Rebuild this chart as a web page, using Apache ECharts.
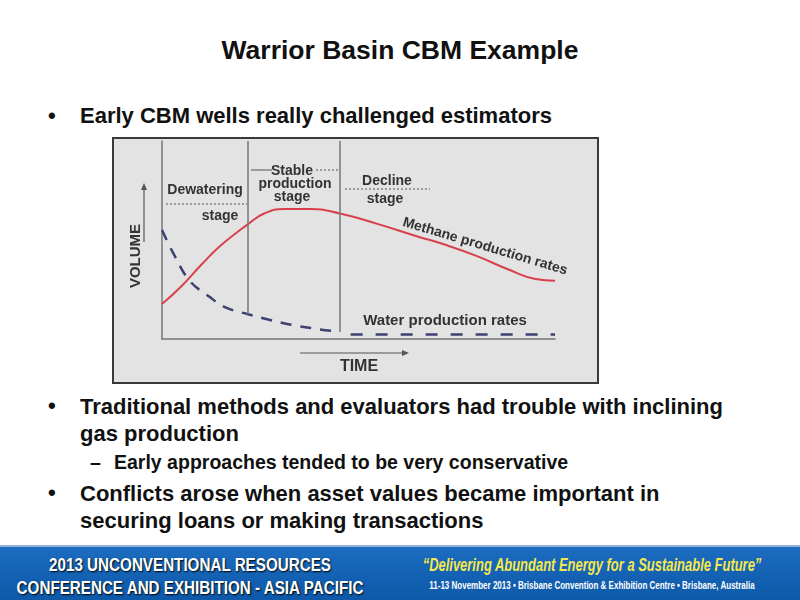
<!DOCTYPE html><html><head><meta charset="utf-8">
<script src="https://cdn.jsdelivr.net/npm/echarts@6/dist/echarts.min.js"></script>
<style>
body{margin:0;width:800px;height:600px;overflow:hidden;background:#fff;font-family:"Liberation Sans",Arial,sans-serif;position:relative}
.t{position:absolute;font-weight:bold;color:#111;white-space:nowrap}
#box{position:absolute;left:112px;top:137px;width:483px;height:243px;border:2px solid #3a3a3a;background:#e3e3e3}
#c{width:483px;height:243px}
#foot{position:absolute;left:0;top:545px;width:800px;height:55px;background:linear-gradient(#1c6cc0,#0d58a8);border-top:2px solid #8fb0d8}
.f{position:absolute;font-weight:bold;white-space:nowrap;text-align:center;transform-origin:0 0}
</style></head><body>
<div class="t" style="left:0;width:800px;text-align:center;top:35px;font-size:26.5px">Warrior Basin CBM Example</div>
<div class="t" style="left:48px;top:103px;font-size:22px">•</div>
<div class="t" style="left:80px;top:103px;font-size:22px">Early CBM wells really challenged estimators</div>
<div id="box"><div id="c"></div></div>
<div class="t" style="left:48px;top:393px;font-size:22px">•</div>
<div class="t" style="left:80px;top:393px;font-size:22px;line-height:27px">Traditional methods and evaluators had trouble with inclining<br>gas production</div>
<div class="t" style="left:90px;top:451px;font-size:19.5px">–</div>
<div class="t" style="left:114px;top:451px;font-size:19.5px">Early approaches tended to be very conservative</div>
<div class="t" style="left:48px;top:480px;font-size:22px">•</div>
<div class="t" style="left:80px;top:480px;font-size:22px;line-height:27px">Conflicts arose when asset values became important in<br>securing loans or making transactions</div>
<div id="foot">
<div class="f" style="left:190px;top:6px;font-size:19px;color:#fff;line-height:23px;text-shadow:1px 1px 2px #000;transform:scaleX(0.8) translateX(-50%)">2013 UNCONVENTIONAL RESOURCES<br>CONFERENCE AND EXHIBITION - ASIA PACIFIC</div>
<div class="f" style="left:592px;top:8px;font-size:18px;color:#f5e84a;font-style:italic;transform:scaleX(0.72) translateX(-50%)">“Delivering Abundant Energy for a Sustainable Future”</div>
<div class="f" style="left:592px;top:33px;font-size:10px;color:#fff;transform:scaleX(0.8) translateX(-50%)">11-13 November 2013 • Brisbane Convention &amp; Exhibition Centre • Brisbane, Australia</div>
</div>
<script>
const methaneX=[0,5,10,15,21.9,26,31,38,45.3,55,65,71.5,80,88.5,95,100];
const methaneY=[19.8,30,42,53,65,71,73.5,73.5,71,65,58,53.7,47,39,34,33];
const waterX=[0,3,7,12,16,21.9,27,33,40,45.3];
const waterY=[61.6,48,33,24,18,14,11,8,5.5,4];
const waterTailX=[48,100];
const waterTailY=[2.5,2.5];
const dividers=[[21.9,14],[45.3,4]];
const zip=(a,b)=>a.map((v,i)=>[v,b[i]]);
const ch=echarts.init(document.getElementById('c'));
const F='bold 14px "Liberation Sans",Arial';
const lbl=(t,x,y,f)=>({type:'text',x:x,y:y,style:{text:t,fill:'#333',font:f||F,align:'center',verticalAlign:'middle'}});
ch.setOption({
 animation:false,
 grid:{left:48,top:2,width:393,height:198},
 xAxis:{type:'value',min:0,max:100,axisLine:{lineStyle:{color:'#777',width:1.5}},axisTick:{show:false},axisLabel:{show:false},splitLine:{show:false}},
 yAxis:{type:'value',min:0,max:112,axisLine:{show:true,lineStyle:{color:'#777',width:1.5}},axisTick:{show:false},axisLabel:{show:false},splitLine:{show:false}},
 series:[
  {type:'line',data:zip(methaneX,methaneY),smooth:0.5,symbol:'none',lineStyle:{color:'#d8404c',width:2},
   markLine:{silent:true,symbol:'none',lineStyle:{color:'#777',type:'solid',width:1.5},label:{show:false},
    data:dividers.map(d=>[{coord:[d[0],d[1]]},{coord:[d[0],112]}])}},
  {type:'line',data:zip(waterX,waterY),smooth:0.4,symbol:'none',lineStyle:{color:'#3c4170',width:2.5,type:[11,9]}},
  {type:'line',data:zip(waterTailX,waterTailY),symbol:'none',lineStyle:{color:'#3c4170',width:2.5,type:[12,13]}}
 ],
 graphic:[
  {type:'line',shape:{x1:30,y1:103,x2:30,y2:48},style:{stroke:'#555',lineWidth:1.2}},
  {type:'polygon',shape:{points:[[30,44],[27,51],[33,51]]},style:{fill:'#555'}},
  {type:'text',x:22,y:117,rotation:Math.PI/2,style:{text:'VOLUME',fill:'#333',font:'bold 15px "Liberation Sans",Arial',align:'center',verticalAlign:'middle'}},
  {type:'line',shape:{x1:186,y1:214,x2:290,y2:214},style:{stroke:'#555',lineWidth:1.2}},
  {type:'polygon',shape:{points:[[295,214],[288,211],[288,217]]},style:{fill:'#555'}},
  lbl('TIME',245,228,'bold 16px "Liberation Sans",Arial'),
  lbl('Dewatering',91,51),lbl('stage',106,77),
  {type:'line',shape:{x1:52,y1:65,x2:133,y2:65},style:{stroke:'#555',lineWidth:1,lineDash:[2,2]}},
  lbl('Stable',178,32),lbl('production',181,45),lbl('stage',178,58),
  {type:'line',shape:{x1:137,y1:31,x2:158,y2:31},style:{stroke:'#555',lineWidth:1}},
  {type:'line',shape:{x1:202,y1:31,x2:224,y2:31},style:{stroke:'#555',lineWidth:1,lineDash:[2,2]}},
  lbl('Decline',273,42),lbl('stage',271,60),
  {type:'line',shape:{x1:231,y1:50,x2:316,y2:50},style:{stroke:'#555',lineWidth:1,lineDash:[2,2]}},
  {type:'text',x:289,y:83,rotation:-0.29,style:{text:'Methane production rates',fill:'#333',font:'bold 14px "Liberation Sans",Arial',verticalAlign:'middle'}},
  lbl('Water production rates',331,182,'bold 15px "Liberation Sans",Arial')
 ]
});
</script></body></html>
